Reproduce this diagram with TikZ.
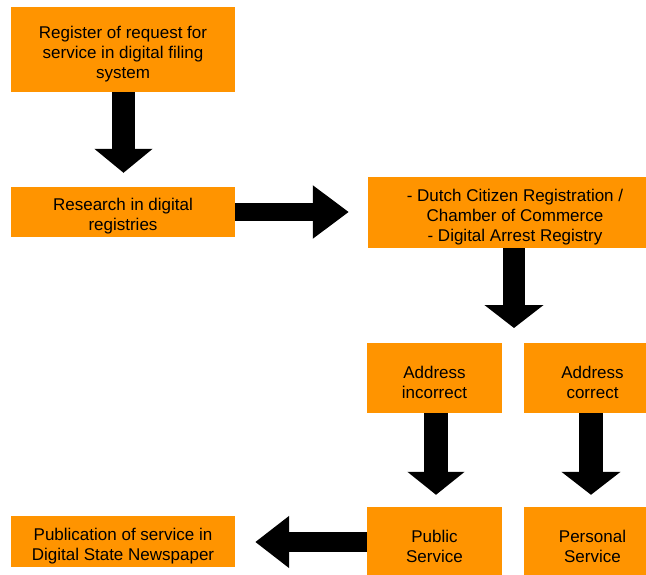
\documentclass[tikz,border=0pt]{standalone}
\usepackage{fontspec}
\setmainfont{Liberation Sans}
\usetikzlibrary{arrows.meta}
\definecolor{boxorange}{RGB}{255,148,0}
\begin{document}
\begin{tikzpicture}[x=1pt,y=-1pt,
  box/.style={fill=boxorange,draw=none,inner sep=0pt},
  txt/.style={inner sep=0pt,align=center,yshift=-4.5pt,
    font=\fontsize{17}{20}\selectfont},
  bigarrow/.style={draw=black,line cap=butt}]
\useasboundingbox (0,0) rectangle (646,575);
\clip (0,0) rectangle (646,575);
\node[box,minimum width=224pt,minimum height=85pt,label={[txt]center:Register of request for\\service in digital filing\\system}] (b1) at (123,49.5) {};
\node[box,minimum width=224pt,minimum height=50pt,label={[txt]center:Research in digital\\registries}] (b2) at (123,212) {};
\node[box,minimum width=294pt,minimum height=71pt,label={[txt]center:- Dutch Citizen Registration /\\Chamber of Commerce\\- Digital Arrest Registry}] (b3) at (515,212.5) {};
\node[box,minimum width=135pt,minimum height=70pt,label={[txt]center:Address\\incorrect}] (b4) at (434.5,378) {};
\node[box,minimum width=137pt,minimum height=70pt,label={[txt]center:Address\\correct}] (b5) at (592.5,378) {};
\node[box,minimum width=135pt,minimum height=70pt,label={[txt]center:Public\\Service}] (b6) at (434.5,542) {};
\node[box,minimum width=137pt,minimum height=70pt,label={[txt]center:Personal\\Service}] (b7) at (592.5,542) {};
\node[box,minimum width=224pt,minimum height=51pt,label={[txt]center:Publication of service in\\Digital State Newspaper}] (b8) at (123,541.5) {};
\coordinate (split) at (514,328);
% arrows
\draw[bigarrow,line width=23pt,-{Triangle[length=24pt,width=57pt]},shorten >=14pt] ([xshift=0.5pt]b1.south) -- ([xshift=0.5pt]b2.north);
\draw[bigarrow,line width=18pt,-{Triangle[length=36pt,width=51pt]},shorten >=19pt] (b2.east) -- (b2.east -| b3.west);
\draw[bigarrow,line width=22pt,-{Triangle[length=23pt,width=58pt]}] ([xshift=-1pt]b3.south) -- (split);
\draw[bigarrow,line width=24pt,-{Triangle[length=23pt,width=56pt]},shorten >=12pt] ([xshift=1.5pt]b4.south) -- ([xshift=1.5pt]b6.north);
\draw[bigarrow,line width=24pt,-{Triangle[length=23pt,width=58pt]},shorten >=12pt] ([xshift=-1.5pt]b5.south) -- ([xshift=-1.5pt]b7.north);
\draw[bigarrow,line width=20pt,-{Triangle[length=34pt,width=50pt]},shorten >=20pt] (b6.west) -- (b6.west -| b8.east);
\end{tikzpicture}
\end{document}
